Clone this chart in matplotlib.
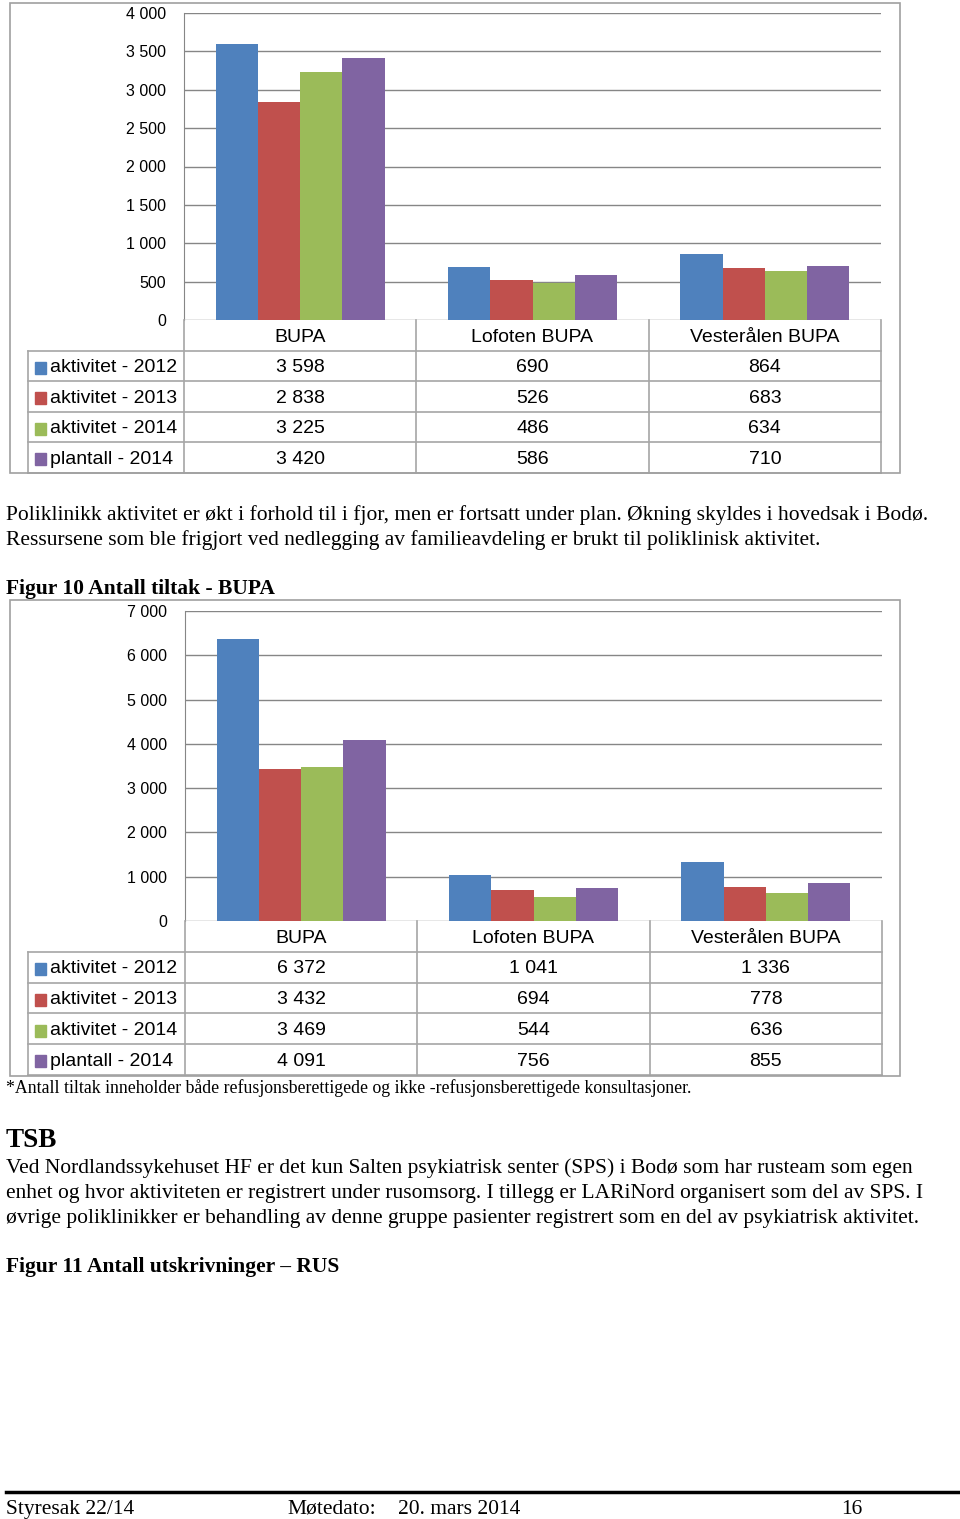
import numpy as np
import matplotlib
matplotlib.use('Agg')
import matplotlib.pyplot as plt
from matplotlib.patches import Rectangle

W, H = 960, 1519

categories = ['BUPA', 'Lofoten BUPA', 'Vesterålen BUPA']
series = ['aktivitet - 2012', 'aktivitet - 2013', 'aktivitet - 2014', 'plantall - 2014']
colors = ['#4F81BD', '#C0504D', '#9BBB59', '#8064A2']

# poliklinikk aktivitet (top chart)
poli_2012 = [3598, 690, 864]
poli_2013 = [2838, 526, 683]
poli_2014 = [3225, 486, 634]
poli_plan = [3420, 586, 710]

# Figur 10 antall tiltak
tiltak_2012 = [6372, 1041, 1336]
tiltak_2013 = [3432, 694, 778]
tiltak_2014 = [3469, 544, 636]
tiltak_plan = [4091, 756, 855]

sans = ['Liberation Sans', 'DejaVu Sans']
serif = ['Liberation Serif', 'DejaVu Serif']
grid_c = '#868686'
tab_c = '#a6a6a6'

fig = plt.figure(figsize=(W / 100, H / 100), dpi=100)


def fax(x0, y0, x1, y1):
    # axes from pixel box (top-left origin)
    return fig.add_axes([x0 / W, 1 - y1 / H, (x1 - x0) / W, (y1 - y0) / H])


def fmt(v):
    return f'{v:,}'.replace(',', ' ')


def draw_chart(frame, plot, lab_left, row_h, values, ymax, step):
    fig.patches.append(Rectangle((frame[0] / W, 1 - frame[3] / H),
                                 (frame[2] - frame[0]) / W, (frame[3] - frame[1]) / H,
                                 transform=fig.transFigure, fill=False,
                                 edgecolor='#a0a0a0', lw=1.2))
    ax = fax(*plot)
    x = np.arange(len(categories))
    w = 0.182
    for i, (vals, c) in enumerate(zip(values, colors)):
        ax.bar(x + (i - 1.5) * w, vals, w, color=c, zorder=3)
    ax.set_xlim(-0.5, len(categories) - 0.5)
    ax.set_ylim(0, ymax)
    ticks = list(range(0, ymax + 1, step))
    ax.set_yticks(ticks)
    ax.set_yticklabels([fmt(t) for t in ticks], family=sans, fontsize=11.5)
    ax.tick_params(axis='y', length=0, pad=13)
    ax.set_xticks([])
    ax.yaxis.grid(True, color=grid_c, lw=1)
    for s in ['top', 'right', 'bottom']:
        ax.spines[s].set_visible(False)
    ax.spines['left'].set_color(grid_c)
    ax.patch.set_alpha(0)

    # data table under the plot
    x0, x1 = plot[0], plot[2]
    top = plot[3]
    bot = top + 5 * row_h
    tab = fax(lab_left, top, x1, bot)
    tab.set_xlim(lab_left, x1)
    tab.set_ylim(bot, top)
    tab.axis('off')
    colw = (x1 - x0) / len(categories)
    edges = [x0 + k * colw for k in range(len(categories) + 1)]
    for e in edges:
        tab.plot([e, e], [top, bot], color=tab_c, lw=1.2, clip_on=False)
    tab.plot([lab_left, lab_left], [top + row_h, bot], color=tab_c, lw=1.2, clip_on=False)
    for r in range(1, 6):
        y = top + r * row_h
        tab.plot([lab_left, x1], [y, y], color=tab_c, lw=1.2, clip_on=False)
    dy = 1.8
    for k, cat in enumerate(categories):
        tab.text(x0 + (k + 0.5) * colw, top + 0.5 * row_h + dy, cat, ha='center',
                 va='center', family=sans, fontsize=14)
    for r, (name, vals, c) in enumerate(zip(series, values, colors)):
        yc = top + (r + 1.5) * row_h + dy
        tab.add_patch(Rectangle((lab_left + 7, yc - 6), 11, 12, color=c, clip_on=False))
        tab.text(lab_left + 22, yc, name, ha='left', va='center', family=sans, fontsize=14)
        for k, v in enumerate(vals):
            tab.text(x0 + (k + 0.5) * colw, yc, fmt(v), ha='center', va='center',
                     family=sans, fontsize=14)


draw_chart((10, 3, 900, 473), (184, 13, 881, 320), 28, 30.5,
           [poli_2012, poli_2013, poli_2014, poli_plan], 4000, 500)
draw_chart((10, 600, 900, 1076), (185, 611, 882, 921), 28, 30.8,
           [tiltak_2012, tiltak_2013, tiltak_2014, tiltak_plan], 7000, 1000)


def txt(x, y, s, size=15.5, weight='normal'):
    fig.text(x / W, 1 - y / H, s, ha='left', va='baseline', family=serif,
             fontsize=size, weight=weight)


txt(6, 520, 'Poliklinikk aktivitet er økt i forhold til i fjor, men er fortsatt under plan. '
            'Økning skyldes i hovedsak i Bodø.')
txt(6, 545, 'Ressursene som ble frigjort ved nedlegging av familieavdeling er brukt til '
            'poliklinisk aktivitet.')
txt(6, 594, 'Figur 10 Antall tiltak - BUPA', weight='bold')
txt(6, 1093, '*Antall tiltak inneholder både refusjonsberettigede og ikke '
             '-refusjonsberettigede konsultasjoner.', size=12.8)
txt(6, 1147, 'TSB', size=19.5, weight='bold')
txt(6, 1173, 'Ved Nordlandssykehuset HF er det kun Salten psykiatrisk senter (SPS) i Bodø '
             'som har rusteam som egen')
txt(6, 1198, 'enhet og hvor aktiviteten er registrert under rusomsorg. I tillegg er '
             'LARiNord organisert som del av SPS. I')
txt(6, 1223, 'øvrige poliklinikker er behandling av denne gruppe pasienter registrert som '
             'en del av psykiatrisk aktivitet.')
txt(6, 1272, 'Figur 11 Antall utskrivninger – RUS', weight='bold')

fig.add_artist(plt.Line2D([6 / W, 958 / W], [1 - 1492 / H, 1 - 1492 / H],
                          color='black', lw=2.5))
txt(6, 1514, 'Styresak 22/14')
txt(287, 1514, 'Møtedato:')
txt(398, 1514, '20. mars 2014')
txt(841, 1514, '16')

fig.savefig('out.png', dpi=100)
